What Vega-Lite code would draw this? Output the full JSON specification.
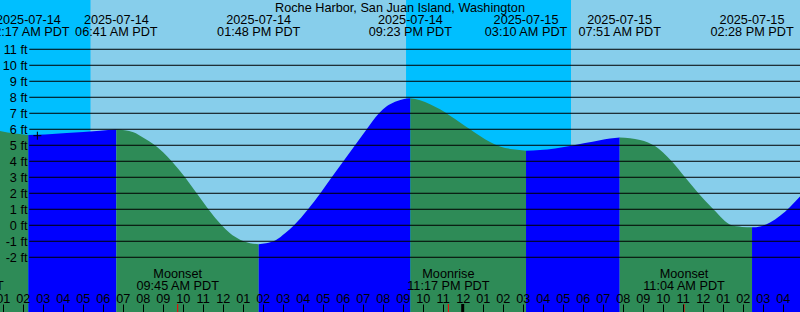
{
  "$schema": "https://vega.github.io/schema/vega-lite/v6.json",
  "width": 800,
  "height": 312,
  "padding": 0,
  "autosize": {"type": "none"},
  "background": "#87CEEB",
  "config": {"view": {"stroke": null}},
  "resolve": {"axis": {"x": "independent", "y": "independent"}},
  "datasets": {
    "sky": [
      {"start": "2025-07-14T00:00", "end": "2025-07-14T05:24", "sky": "night"},
      {"start": "2025-07-14T05:24", "end": "2025-07-14T21:10", "sky": "day"},
      {"start": "2025-07-14T21:10", "end": "2025-07-15T05:25", "sky": "night"},
      {"start": "2025-07-15T05:25", "end": "2025-07-15T21:09", "sky": "day"}
    ],
    "tide": [
      {"time": "2025-07-14T00:50", "ft": 5.9, "seg": "A", "dir": "falling"},
      {"time": "2025-07-14T01:37", "ft": 5.73, "seg": "A", "dir": "falling"},
      {"time": "2025-07-14T02:17", "ft": 5.64, "seg": "A", "dir": "falling"},
      {"time": "2025-07-14T02:17", "ft": 5.64, "seg": "B", "dir": "rising"},
      {"time": "2025-07-14T03:07", "ft": 5.68, "seg": "B", "dir": "rising"},
      {"time": "2025-07-14T04:12", "ft": 5.77, "seg": "B", "dir": "rising"},
      {"time": "2025-07-14T05:52", "ft": 5.91, "seg": "B", "dir": "rising"},
      {"time": "2025-07-14T06:41", "ft": 5.98, "seg": "B", "dir": "rising"},
      {"time": "2025-07-14T06:41", "ft": 5.98, "seg": "C", "dir": "falling"},
      {"time": "2025-07-14T07:32", "ft": 5.81, "seg": "C", "dir": "falling"},
      {"time": "2025-07-14T08:02", "ft": 5.47, "seg": "C", "dir": "falling"},
      {"time": "2025-07-14T08:37", "ft": 5.0, "seg": "C", "dir": "falling"},
      {"time": "2025-07-14T09:27", "ft": 4.0, "seg": "C", "dir": "falling"},
      {"time": "2025-07-14T10:07", "ft": 3.0, "seg": "C", "dir": "falling"},
      {"time": "2025-07-14T10:42", "ft": 2.0, "seg": "C", "dir": "falling"},
      {"time": "2025-07-14T11:17", "ft": 1.0, "seg": "C", "dir": "falling"},
      {"time": "2025-07-14T11:57", "ft": 0.0, "seg": "C", "dir": "falling"},
      {"time": "2025-07-14T12:22", "ft": -0.5, "seg": "C", "dir": "falling"},
      {"time": "2025-07-14T12:52", "ft": -0.9, "seg": "C", "dir": "falling"},
      {"time": "2025-07-14T13:22", "ft": -1.12, "seg": "C", "dir": "falling"},
      {"time": "2025-07-14T13:48", "ft": -1.18, "seg": "C", "dir": "falling"},
      {"time": "2025-07-14T13:48", "ft": -1.18, "seg": "D", "dir": "rising"},
      {"time": "2025-07-14T14:10", "ft": -1.13, "seg": "D", "dir": "rising"},
      {"time": "2025-07-14T14:40", "ft": -0.92, "seg": "D", "dir": "rising"},
      {"time": "2025-07-14T15:07", "ft": -0.5, "seg": "D", "dir": "rising"},
      {"time": "2025-07-14T15:34", "ft": 0.0, "seg": "D", "dir": "rising"},
      {"time": "2025-07-14T16:16", "ft": 1.0, "seg": "D", "dir": "rising"},
      {"time": "2025-07-14T16:53", "ft": 2.0, "seg": "D", "dir": "rising"},
      {"time": "2025-07-14T17:27", "ft": 3.0, "seg": "D", "dir": "rising"},
      {"time": "2025-07-14T18:02", "ft": 4.0, "seg": "D", "dir": "rising"},
      {"time": "2025-07-14T18:37", "ft": 5.0, "seg": "D", "dir": "rising"},
      {"time": "2025-07-14T19:12", "ft": 6.0, "seg": "D", "dir": "rising"},
      {"time": "2025-07-14T19:49", "ft": 7.0, "seg": "D", "dir": "rising"},
      {"time": "2025-07-14T20:13", "ft": 7.45, "seg": "D", "dir": "rising"},
      {"time": "2025-07-14T20:37", "ft": 7.72, "seg": "D", "dir": "rising"},
      {"time": "2025-07-14T21:04", "ft": 7.9, "seg": "D", "dir": "rising"},
      {"time": "2025-07-14T21:23", "ft": 7.94, "seg": "D", "dir": "rising"},
      {"time": "2025-07-14T21:23", "ft": 7.94, "seg": "E", "dir": "falling"},
      {"time": "2025-07-14T21:52", "ft": 7.82, "seg": "E", "dir": "falling"},
      {"time": "2025-07-14T22:22", "ft": 7.57, "seg": "E", "dir": "falling"},
      {"time": "2025-07-14T22:52", "ft": 7.25, "seg": "E", "dir": "falling"},
      {"time": "2025-07-14T23:22", "ft": 6.85, "seg": "E", "dir": "falling"},
      {"time": "2025-07-14T23:52", "ft": 6.43, "seg": "E", "dir": "falling"},
      {"time": "2025-07-15T00:22", "ft": 6.0, "seg": "E", "dir": "falling"},
      {"time": "2025-07-15T00:52", "ft": 5.58, "seg": "E", "dir": "falling"},
      {"time": "2025-07-15T01:22", "ft": 5.2, "seg": "E", "dir": "falling"},
      {"time": "2025-07-15T01:52", "ft": 4.93, "seg": "E", "dir": "falling"},
      {"time": "2025-07-15T02:30", "ft": 4.75, "seg": "E", "dir": "falling"},
      {"time": "2025-07-15T03:10", "ft": 4.66, "seg": "E", "dir": "falling"},
      {"time": "2025-07-15T03:10", "ft": 4.66, "seg": "F", "dir": "rising"},
      {"time": "2025-07-15T03:52", "ft": 4.7, "seg": "F", "dir": "rising"},
      {"time": "2025-07-15T04:37", "ft": 4.8, "seg": "F", "dir": "rising"},
      {"time": "2025-07-15T05:22", "ft": 4.96, "seg": "F", "dir": "rising"},
      {"time": "2025-07-15T06:07", "ft": 5.14, "seg": "F", "dir": "rising"},
      {"time": "2025-07-15T06:52", "ft": 5.32, "seg": "F", "dir": "rising"},
      {"time": "2025-07-15T07:22", "ft": 5.42, "seg": "F", "dir": "rising"},
      {"time": "2025-07-15T07:51", "ft": 5.48, "seg": "F", "dir": "rising"},
      {"time": "2025-07-15T07:51", "ft": 5.48, "seg": "G", "dir": "falling"},
      {"time": "2025-07-15T08:22", "ft": 5.44, "seg": "G", "dir": "falling"},
      {"time": "2025-07-15T08:52", "ft": 5.33, "seg": "G", "dir": "falling"},
      {"time": "2025-07-15T09:16", "ft": 5.18, "seg": "G", "dir": "falling"},
      {"time": "2025-07-15T09:37", "ft": 4.95, "seg": "G", "dir": "falling"},
      {"time": "2025-07-15T10:01", "ft": 4.55, "seg": "G", "dir": "falling"},
      {"time": "2025-07-15T10:27", "ft": 4.0, "seg": "G", "dir": "falling"},
      {"time": "2025-07-15T11:07", "ft": 3.0, "seg": "G", "dir": "falling"},
      {"time": "2025-07-15T11:47", "ft": 2.0, "seg": "G", "dir": "falling"},
      {"time": "2025-07-15T12:32", "ft": 1.0, "seg": "G", "dir": "falling"},
      {"time": "2025-07-15T13:27", "ft": 0.0, "seg": "G", "dir": "falling"},
      {"time": "2025-07-15T13:58", "ft": -0.1, "seg": "G", "dir": "falling"},
      {"time": "2025-07-15T14:28", "ft": -0.13, "seg": "G", "dir": "falling"},
      {"time": "2025-07-15T14:28", "ft": -0.13, "seg": "H", "dir": "rising"},
      {"time": "2025-07-15T14:52", "ft": -0.07, "seg": "H", "dir": "rising"},
      {"time": "2025-07-15T15:22", "ft": 0.18, "seg": "H", "dir": "rising"},
      {"time": "2025-07-15T15:52", "ft": 0.6, "seg": "H", "dir": "rising"},
      {"time": "2025-07-15T16:22", "ft": 1.15, "seg": "H", "dir": "rising"},
      {"time": "2025-07-15T16:53", "ft": 1.82, "seg": "H", "dir": "rising"}
    ],
    "levels": [
      {"ft": -2}, {"ft": -1}, {"ft": 0}, {"ft": 1}, {"ft": 2}, {"ft": 3}, {"ft": 4},
      {"ft": 5}, {"ft": 6}, {"ft": 7}, {"ft": 8}, {"ft": 9}, {"ft": 10}, {"ft": 11}
    ],
    "moon": [
      {"time": "2025-07-13T22:58", "label": "Moonrise\n10:58 PM PDT"},
      {"time": "2025-07-14T09:45", "label": "Moonset\n09:45 AM PDT"},
      {"time": "2025-07-14T23:17", "label": "Moonrise\n11:17 PM PDT"},
      {"time": "2025-07-15T11:04", "label": "Moonset\n11:04 AM PDT"}
    ],
    "midnight": [
      {"time": "2025-07-15T00:00"}
    ],
    "extremes": [
      {"time": "2025-07-14T02:17", "label": "2025-07-14\n02:17 AM PDT"},
      {"time": "2025-07-14T06:41", "label": "2025-07-14\n06:41 AM PDT"},
      {"time": "2025-07-14T13:48", "label": "2025-07-14\n01:48 PM PDT"},
      {"time": "2025-07-14T21:23", "label": "2025-07-14\n09:23 PM PDT"},
      {"time": "2025-07-15T03:10", "label": "2025-07-15\n03:10 AM PDT"},
      {"time": "2025-07-15T07:51", "label": "2025-07-15\n07:51 AM PDT"},
      {"time": "2025-07-15T14:28", "label": "2025-07-15\n02:28 PM PDT"}
    ],
    "now": [
      {"time": "2025-07-14T02:44", "ft": 5.6}
    ],
    "station": [
      {"time": "2025-07-14T20:51:54", "name": "Roche Harbor, San Juan Island, Washington"}
    ]
  },
  "layer": [
    {
      "data": {"name": "sky"},
      "mark": {"type": "rect", "clip": true},
      "encoding": {
        "x": {"field": "start", "type": "temporal", "axis": null,
              "scale": {"domain": [{"year": 2025, "month": 7, "date": 14, "hours": 0, "minutes": 51, "seconds": 54}, {"year": 2025, "month": 7, "date": 15, "hours": 16, "minutes": 51, "seconds": 54}]}},
        "x2": {"field": "end"},
        "color": {"field": "sky", "type": "nominal", "legend": null,
                  "scale": {"domain": ["day", "night", "rising", "falling"], "range": ["#87CEEB", "#00BFFF", "#0000FF", "#2E8B57"]}}
      }
    },
    {
      "data": {"name": "tide"},
      "mark": {"type": "area", "interpolate": "monotone", "clip": true},
      "encoding": {
        "x": {"field": "time", "type": "temporal",
              "scale": {"domain": [{"year": 2025, "month": 7, "date": 14, "hours": 0, "minutes": 51, "seconds": 54}, {"year": 2025, "month": 7, "date": 15, "hours": 16, "minutes": 51, "seconds": 54}]},
              "axis": {"orient": "bottom", "offset": -8, "title": null, "format": "%I", "tickCount": 40,
                       "domain": false, "grid": false, "tickSize": 8, "tickColor": "black", "tickWidth": 1,
                       "labelPadding": -10, "labelBaseline": "alphabetic", "labelAngle": 0,
                       "labelFlush": false, "labelOverlap": false,
                       "labelFont": "Liberation Sans", "labelFontSize": 12.7, "labelColor": "black", "zindex": 1}},
        "y": {"field": "ft", "type": "quantitative",
              "scale": {"domain": [-5.42, 14.08], "nice": false, "zero": false},
              "axis": {"orient": "left", "offset": -27, "title": null, "values": [-2, -1, 0, 1, 2, 3, 4, 5, 6, 7, 8, 9, 10, 11],
                       "labelExpr": "datum.value + ' ft'", "ticks": false, "domain": false, "grid": false,
                       "labelPadding": 0, "labelAlign": "right", "labelBaseline": "middle", "labelOverlap": false,
                       "labelFont": "Liberation Sans", "labelFontSize": 12.7, "labelColor": "black", "zindex": 1}},
        "y2": {"datum": -5.42},
        "color": {"field": "dir", "type": "nominal", "legend": null,
                  "scale": {"domain": ["day", "night", "rising", "falling"], "range": ["#87CEEB", "#00BFFF", "#0000FF", "#2E8B57"]}},
        "detail": {"field": "seg"}
      }
    },
    {
      "data": {"name": "levels"},
      "mark": {"type": "rule", "color": "black", "strokeWidth": 1, "clip": true},
      "encoding": {
        "x": {"datum": {"year": 2025, "month": 7, "date": 14, "hours": 2, "minutes": 19, "seconds": 48}, "type": "temporal", "axis": null},
        "x2": {"datum": {"year": 2025, "month": 7, "date": 15, "hours": 18}},
        "y": {"field": "ft", "type": "quantitative", "axis": null}
      }
    },
    {
      "data": {"name": "moon"},
      "mark": {"type": "rule", "color": "#FF0000", "strokeWidth": 1, "clip": true},
      "encoding": {
        "x": {"field": "time", "type": "temporal", "axis": null},
        "y": {"datum": -4.92, "type": "quantitative", "axis": null},
        "y2": {"datum": -5.42}
      }
    },
    {
      "data": {"name": "midnight"},
      "mark": {"type": "rule", "color": "black", "strokeWidth": 3, "clip": true},
      "encoding": {
        "x": {"field": "time", "type": "temporal", "axis": null},
        "y": {"datum": -4.92, "type": "quantitative", "axis": null},
        "y2": {"datum": -5.42}
      }
    },
    {
      "data": {"name": "moon"},
      "mark": {"type": "text", "lineBreak": "\n", "lineHeight": 11.3, "align": "center", "baseline": "alphabetic", "font": "Liberation Sans", "fontSize": 12.7, "color": "black", "clip": true},
      "encoding": {
        "x": {"field": "time", "type": "temporal", "axis": null},
        "y": {"datum": -3.31, "type": "quantitative", "axis": null},
        "text": {"field": "label"}
      }
    },
    {
      "data": {"name": "extremes"},
      "mark": {"type": "text", "lineBreak": "\n", "lineHeight": 11.6, "align": "center", "baseline": "alphabetic", "font": "Liberation Sans", "fontSize": 12.7, "color": "black", "clip": true},
      "encoding": {
        "x": {"field": "time", "type": "temporal", "axis": null},
        "y": {"datum": 12.58, "type": "quantitative", "axis": null},
        "text": {"field": "label"}
      }
    },
    {
      "data": {"name": "now"},
      "mark": {"type": "point", "shape": "M-1,0H1M0,-1V1", "size": 64, "filled": false, "stroke": "black", "strokeWidth": 1, "opacity": 1, "clip": true},
      "encoding": {
        "x": {"field": "time", "type": "temporal", "axis": null},
        "y": {"field": "ft", "type": "quantitative", "axis": null}
      }
    },
    {
      "data": {"name": "station"},
      "mark": {"type": "text", "align": "center", "baseline": "alphabetic", "font": "Liberation Sans", "fontSize": 12.7, "color": "black"},
      "encoding": {
        "x": {"field": "time", "type": "temporal", "axis": null},
        "y": {"datum": 13.35, "type": "quantitative", "axis": null},
        "text": {"field": "name"}
      }
    }
  ]
}
